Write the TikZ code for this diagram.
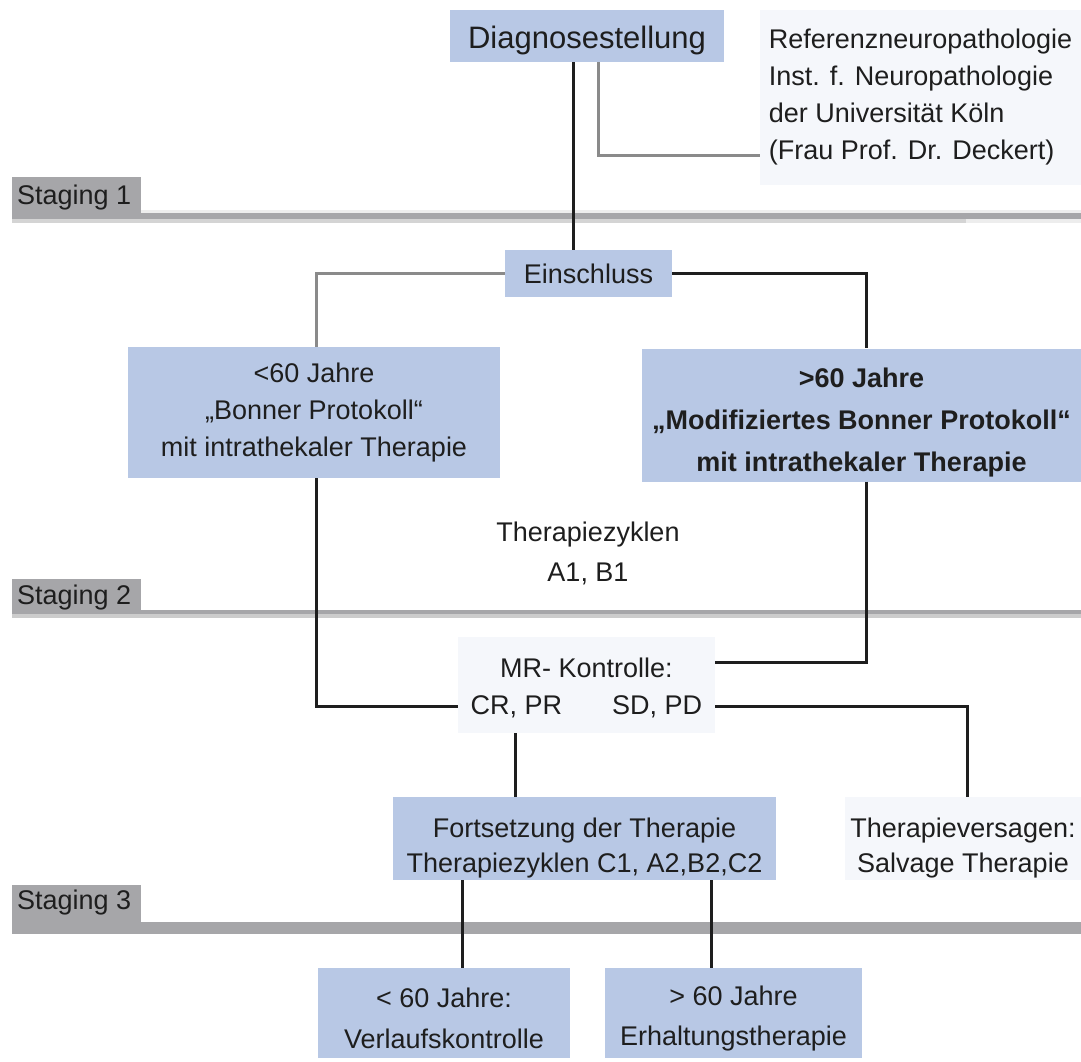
\documentclass[tikz,border=0pt]{standalone}
\usepackage{fontspec}
\setmainfont{Liberation Sans}
\definecolor{boxblue}{HTML}{B8C8E5}
\definecolor{boxpale}{HTML}{F5F7FB}
\definecolor{stagegray}{HTML}{A6A6A9}
\definecolor{linkgray}{HTML}{8A8A8A}
\definecolor{inkdark}{HTML}{1E1E1E}

\begin{document}
\begin{tikzpicture}[x=1pt,y=1pt,
 txt/.style={font=\fontsize{27}{37}\selectfont,text=inkdark,align=center,inner sep=0pt},
 bluebox/.style={txt,fill=boxblue},
 palebox/.style={txt,fill=boxpale},
 link/.style={line width=3pt,inkdark},
 greylink/.style={line width=3pt,linkgray}]
 \useasboundingbox[fill=white] (0,0) rectangle (1081,-1061);
 \fill[black!7] (141,-210) rectangle (1081,-213);
 \fill[stagegray] (141,-213) rectangle (1081,-219);
 \fill[black!17] (12,-219) rectangle (966,-223);
 \fill[black!7] (966,-219) rectangle (1081,-223);
 \fill[stagegray] (141,-610) rectangle (1081,-614);
 \fill[black!20] (12,-614) rectangle (1081,-618);
 \fill[stagegray] (12,-922) rectangle (1081,-934);
 \foreach \n/\top/\bot/\mid in {1/177/219/198,2/579/614/598,3/885/922/903}
  {\fill[stagegray] (12,-\top) rectangle (141,-\bot);
   \node[txt,anchor=west] (stage\n) at (17,-\mid) {Staging \n};}
 \node[bluebox,minimum width=274,minimum height=52,text height=32pt,
  font=\fontsize{31}{37}\selectfont] (diag) at (587,-36) {Diagnosestellung};
 \node[palebox,align=left,minimum width=321,minimum height=175] (ref) at (920.5,-97.5)
  {Referenzneuropathologie\\Inst. f. Neuropathologie\\der Universität Köln\\(Frau Prof. Dr. Deckert)};
 \node[bluebox,minimum width=167,minimum height=47] (einschluss) at (588.5,-273.5) {Einschluss};
 \node[bluebox,minimum width=372,minimum height=131] (young) at (314,-412.5)
  {<60 Jahre\\„Bonner Protokoll“\\mit intrathekaler Therapie};
 \node[bluebox,minimum width=439,minimum height=133,text height=118pt,
  font=\fontsize{27}{42}\selectfont\bfseries] (old) at (861.5,-415)
  {>60 Jahre\\„Modifiziertes Bonner Protokoll“\\mit intrathekaler Therapie};
 \node[txt,font=\fontsize{27}{40}\selectfont] (zyklen) at (588,-553) {Therapiezyklen\\A1, B1};
 \node[palebox,minimum width=257,minimum height=96,text height=62pt] (mr) at (586.5,-685)
  {MR- Kontrolle:\\CR, PR\hspace{50pt}SD, PD};
 \node[bluebox,minimum width=383,minimum height=83,text height=73pt,
  font=\fontsize{27}{35}\selectfont] (fort) at (584.5,-838.5)
  {Fortsetzung der Therapie\\Therapiezyklen C1, A2,B2,C2};
 \node[palebox,minimum width=236,minimum height=83,text height=73pt,
  font=\fontsize{27}{35}\selectfont] (versagen) at (963,-838.5)
  {Therapieversagen:\\Salvage Therapie};
 \node[bluebox,minimum width=252,minimum height=90,text height=71pt,
  font=\fontsize{27}{41}\selectfont] (verlauf) at (444,-1013) {< 60 Jahre:\\Verlaufskontrolle};
 \node[bluebox,minimum width=257,minimum height=90,text height=70pt,
  font=\fontsize{27}{40}\selectfont] (erhalt) at (733.5,-1013) {> 60 Jahre\\Erhaltungstherapie};
 \draw[link] ([xshift=-14pt]diag.south) -- ([xshift=-14pt]diag.south |- einschluss.north);
 \draw[greylink] ([xshift=11pt]diag.south) |- ([yshift=-57.5pt]ref.west);
 \draw[greylink] (einschluss.west) -| ([xshift=2pt]young.north);
 \draw[link] (einschluss.east) -| ([xshift=4.5pt]old.north);
 \draw[link] ([xshift=2pt]young.south) |- ([yshift=-21pt]mr.west);
 \draw[link] ([xshift=4.5pt]old.south) |- ([yshift=23pt]mr.east);
 \draw[link] ([yshift=-21pt]mr.east) -| ([xshift=4pt]versagen.north);
 \draw[link] ([xshift=-71.5pt]mr.south) -- ([xshift=-71.5pt]mr.south |- fort.north);
 \draw[link] ([xshift=-122.5pt]fort.south) -- ([xshift=-122.5pt]fort.south |- verlauf.north);
 \draw[link] ([xshift=126.5pt]fort.south) -- ([xshift=126.5pt]fort.south |- erhalt.north);
\end{tikzpicture}
\end{document}
